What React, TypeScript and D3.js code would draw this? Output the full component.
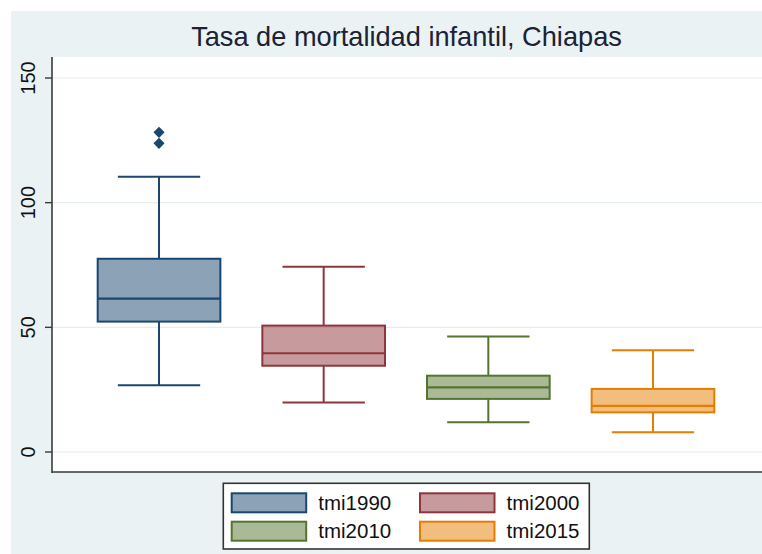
import React from "react";
import * as d3 from "d3";

const categories = ["tmi1990", "tmi2000", "tmi2010", "tmi2015"];
const lowerWhisker = [26.8, 19.9, 11.9, 7.9];
const q1 = [52.3, 34.6, 21.3, 15.9];
const median = [61.5, 39.6, 25.9, 18.5];
const q3 = [77.5, 50.7, 30.6, 25.3];
const upperWhisker = [110.4, 74.3, 46.3, 40.8];
const outliers: number[][] = [[128.2, 123.8], [], [], []];
const yTicks = [0, 50, 100, 150];
const colors = ["#1a476f", "#90353b", "#55752f", "#e37e00"];
const title = "Tasa de mortalidad infantil, Chiapas";

const W = 762;
const H = 554;
const plotLeft = 52;
const plotRight = 762;
const plotTop = 57;
const plotBottom = 472;

export default function App() {
  const x = d3.scalePoint<string>().domain(categories).range([plotLeft, 760]).padding(0.65);
  const y = d3.scaleLinear().domain([0, 150]).range([452, 78]);
  const step = x.step();
  const boxW = step * 0.745;
  const capW = step * 0.5;
  const diamond = d3.symbol().type(d3.symbolSquare).size(62)();
  const font = "'Liberation Sans', Arial, Helvetica, sans-serif";

  const legendItems = categories.map((c, i) => ({
    c,
    i,
    col: i % 2,
    row: Math.floor(i / 2),
  }));
  const legendColX = [231.7, 420];
  const legendRowY = [493.3, 521.7];

  return (
    <svg width={W} height={H} style={{ position: "absolute", left: 0, top: 0 }} fontFamily={font}>
      <rect x={0} y={0} width={W} height={H} fill="#ffffff" />
      <rect x={11} y={11} width={W - 11} height={H - 11} fill="#eaf2f3" />
      <rect x={plotLeft} y={plotTop} width={plotRight - plotLeft} height={plotBottom - plotTop} fill="#ffffff" />
      {yTicks.map((t) => (
        <line key={"g" + t} x1={plotLeft} x2={plotRight} y1={y(t)} y2={y(t)} stroke="#e4eef0" strokeWidth={1.2} />
      ))}
      <text x={406.5} y={45.7} textAnchor="middle" fontSize={27.2} fill="#1c2233">
        {title}
      </text>
      {categories.map((c, i) => {
        const cx = x(c)!;
        const col = colors[i];
        return (
          <g key={c}>
            <line x1={cx} x2={cx} y1={y(q3[i])} y2={y(upperWhisker[i])} stroke={col} strokeWidth={2} />
            <line x1={cx} x2={cx} y1={y(q1[i])} y2={y(lowerWhisker[i])} stroke={col} strokeWidth={2} />
            <line x1={cx - capW / 2} x2={cx + capW / 2} y1={y(upperWhisker[i])} y2={y(upperWhisker[i])} stroke={col} strokeWidth={2} />
            <line x1={cx - capW / 2} x2={cx + capW / 2} y1={y(lowerWhisker[i])} y2={y(lowerWhisker[i])} stroke={col} strokeWidth={2} />
            <rect
              x={cx - boxW / 2}
              y={y(q3[i])}
              width={boxW}
              height={y(q1[i]) - y(q3[i])}
              fill={col}
              fillOpacity={0.5}
              stroke={col}
              strokeWidth={2}
            />
            <line x1={cx - boxW / 2} x2={cx + boxW / 2} y1={y(median[i])} y2={y(median[i])} stroke={col} strokeWidth={2.2} />
            {outliers[i].map((v, k) => (
              <path key={k} d={diamond!} transform={`translate(${cx},${y(v)}) rotate(45)`} fill={col} />
            ))}
          </g>
        );
      })}
      <line x1={plotLeft} x2={plotLeft} y1={plotTop} y2={plotBottom + 1} stroke="#3a3a3a" strokeWidth={1.6} />
      <line x1={plotLeft} x2={plotRight} y1={plotBottom} y2={plotBottom} stroke="#3a3a3a" strokeWidth={1.6} />
      {yTicks.map((t) => (
        <g key={"t" + t}>
          <line x1={45} x2={plotLeft} y1={y(t)} y2={y(t)} stroke="#3a3a3a" strokeWidth={1.4} />
          <text transform={`translate(35,${y(t)}) rotate(-90)`} textAnchor="middle" fontSize={20} fill="#111">
            {t}
          </text>
        </g>
      ))}
      <rect x={223.3} y={483.3} width={366} height={65.7} fill="#ffffff" stroke="#333" strokeWidth={1.6} />
      {legendItems.map(({ c, i, col, row }) => (
        <g key={"l" + c}>
          <rect
            x={legendColX[col]}
            y={legendRowY[row]}
            width={74.5}
            height={19}
            fill={colors[i]}
            fillOpacity={0.5}
            stroke={colors[i]}
            strokeWidth={2}
          />
          <text x={legendColX[col] + 86.6} y={legendRowY[row] + 16.7} fontSize={20.5} fill="#111">
            {c}
          </text>
        </g>
      ))}
    </svg>
  );
}
